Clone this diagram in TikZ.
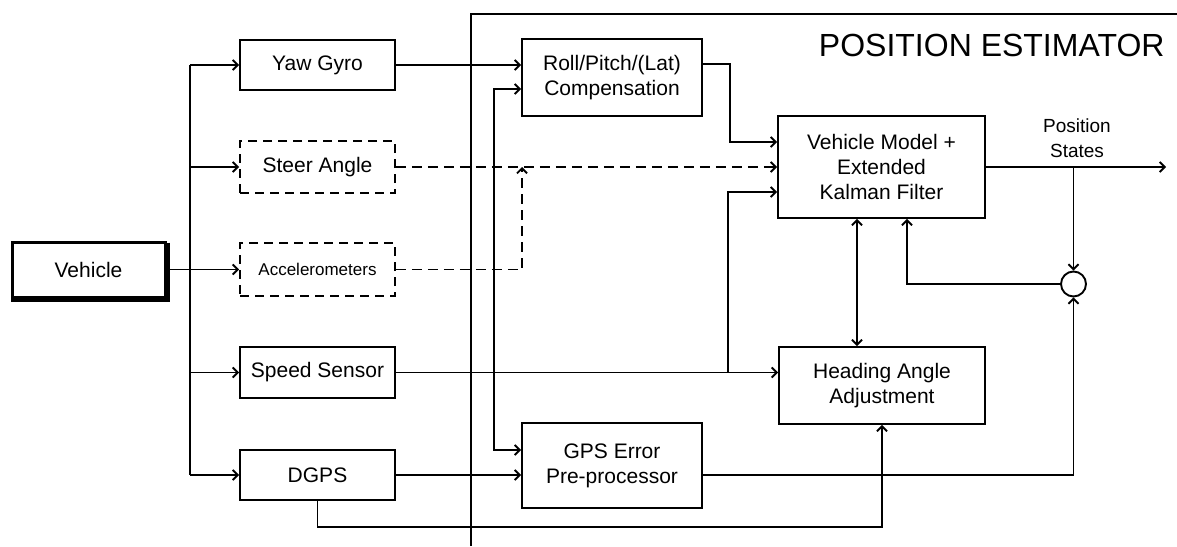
\documentclass[tikz,border=0pt]{standalone}
\usepackage{fontspec}
\setmainfont{Liberation Sans}
\usetikzlibrary{arrows.meta,calc}
\tikzset{
  blk/.style={draw,line width=1.9pt,inner sep=0pt,align=center,font=\fontsize{21}{25}\selectfont},
  dblk/.style={blk,dash pattern=on 9pt off 6pt},
  ln/.style={line width=1.9pt},
  arr/.style={ln,-{Straight Barb[length=5pt,width=10pt]}},
  darr/.style={ln,{Straight Barb[length=5pt,width=10pt]}-{Straight Barb[length=5pt,width=10pt]}},
  dsh/.style={dash pattern=on 10pt off 6pt},
}
\begin{document}
\begin{tikzpicture}[x=1pt,y=-1pt]
\useasboundingbox (0,0) rectangle (1177,546);
\fill[white] (0,0) rectangle (1177,546);
% frame
\draw[line width=1.6pt] (471,546) -- (471,14) -- (1177,14);
\node[anchor=east,font=\fontsize{32}{36}\selectfont] (title) at (1168,45) {POSITION ESTIMATOR};
% nodes
\node[blk,line width=3pt,minimum width=153pt,minimum height=55pt] (veh) at (88.5,269.5) {Vehicle};
\draw[line width=3pt] ($(veh.north east)+(1.5,2)$) -- ($(veh.south east)+(1.5,1.5)$) -- ($(veh.south west)+(0,1.5)$);
\node[blk,minimum width=155pt,minimum height=50pt] (yaw) at (317.5,65) {Yaw Gyro};
\node[dblk,minimum width=155pt,minimum height=52pt] (steer) at (317.5,167) {Steer Angle};
\node[dblk,minimum width=155pt,minimum height=53pt,font=\fontsize{17}{20}\selectfont] (acc) at (317.5,269.5) {Accelerometers};
\node[blk,minimum width=155pt,minimum height=51pt] (speed) at (317.5,372.5) {Speed Sensor};
\node[blk,minimum width=155pt,minimum height=50pt] (dgps) at (317.5,475) {DGPS};
\node[blk,minimum width=180pt,minimum height=77pt] (rpc) at (612,77.5) {Roll/Pitch/(Lat)\\Compensation};
\node[blk,minimum width=180pt,minimum height=85pt] (gps) at (612,465.5) {GPS Error\\Pre-processor};
\node[blk,minimum width=207pt,minimum height=102pt] (vm) at (881.5,167) {Vehicle Model +\\Extended\\Kalman Filter};
\node[blk,minimum width=206pt,minimum height=77pt] (ha) at (882,385.5) {Heading Angle\\Adjustment};
\node[draw,ln,circle,minimum size=25pt,inner sep=0pt] (sum) at (1073.5,284) {};
\node[align=center,font=\fontsize{19}{25}\selectfont] (ps) at (1077,138) {Position\\States};
% bus
\coordinate (bt) at (190,65);
\coordinate (bb) at (190,475);
\draw[ln] (bt) -- (bb);
\draw[arr] (bt) -- (yaw.west);
\draw[arr] (bt |- steer.west) -- (steer.west);
\draw[arr] (veh.east) -- (acc.west);
\draw[arr] (bt |- speed.west) -- (speed.west);
\draw[arr] (bb) -- (dgps.west);
% sensors to processing
\draw[arr] (yaw.east) -- (yaw.east -| rpc.west);
\coordinate (v1t) at (494,89);
\coordinate (v1b) at (494,450);
\draw[darr] (v1t -| rpc.west) -- (v1t) -- (v1b) -- (v1b -| gps.west);
\draw[arr] (dgps.east) -- (dgps.east -| gps.west);
\draw[arr,dsh] (steer.east) -- (steer.east -| vm.west);
\coordinate (a1) at (522,269.5);
\draw[arr,dsh] (acc.east) -- (a1) -- (a1 |- steer.east);
\coordinate (r1) at (730,64);
\coordinate (r2) at (730,142);
\draw[arr] (r1 -| rpc.east) -- (r1) -- (r2) -- (r2 -| vm.west);
\draw[arr] (speed.east) -- (speed.east -| ha.west);
\coordinate (s1) at (728,372.5);
\coordinate (s2) at (728,192);
\draw[arr] (s1) -- (s2) -- (s2 -| vm.west);
\coordinate (dx) at (857,0);
\draw[darr] (dx |- vm.south) -- (dx |- ha.north);
% outputs
\coordinate (out) at (1166,167);
\draw[arr] (vm.east) -- (out);
\draw[arr] (sum.north |- vm.east) -- (sum.north);
\coordinate (fb) at (907,284);
\draw[arr] (sum.west) -- (fb) -- (fb |- vm.south);
\draw[arr] (dgps.east -| gps.east) -- (sum.south |- dgps.east) -- (sum.south);
\coordinate (d) at (0,527);
\draw[arr] (dgps.south) -- (dgps.south |- d) -- (ha.south |- d) -- (ha.south);
\end{tikzpicture}
\end{document}
